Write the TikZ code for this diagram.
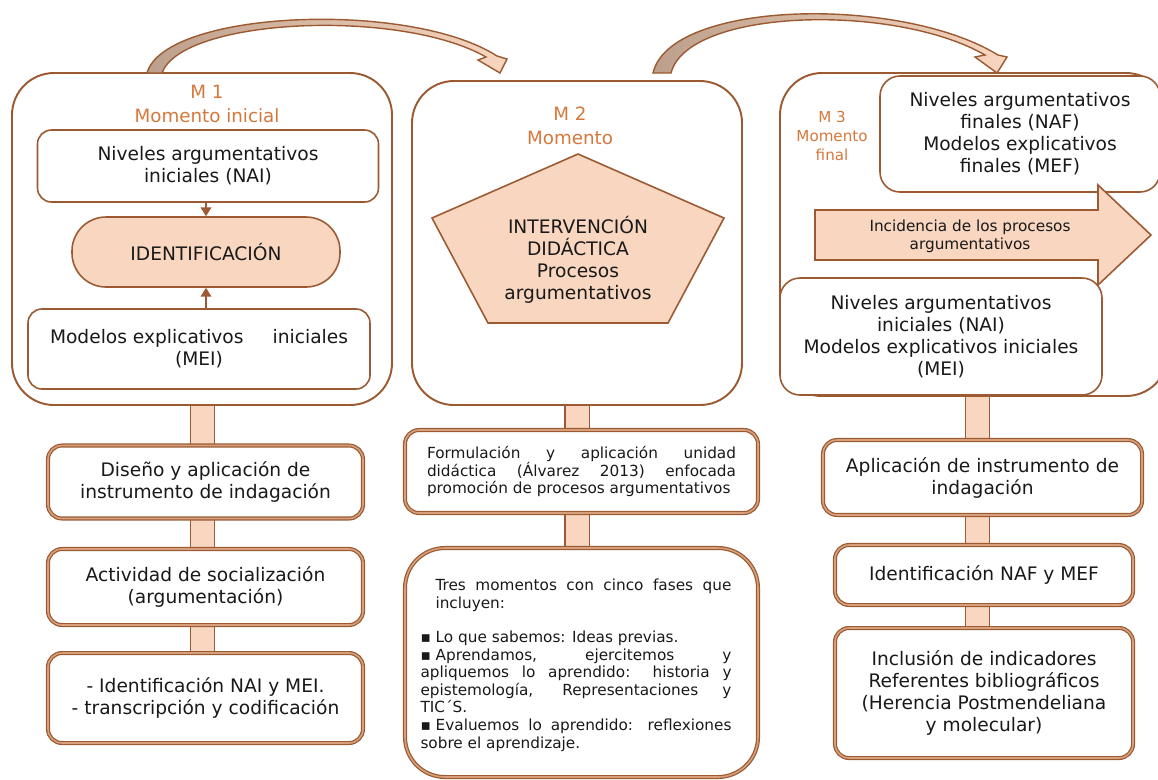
\documentclass[tikz,border=0pt]{standalone}
\usepackage{fontspec}
\setmainfont{DejaVu Sans}
\usetikzlibrary{arrows.meta, calc, positioning, backgrounds}
\definecolor{brownline}{RGB}{155,90,50}
\definecolor{brownpale}{RGB}{215,160,125}
\definecolor{peach}{RGB}{248,214,192}
\definecolor{archbase}{RGB}{188,160,140}
\definecolor{orangetxt}{RGB}{214,120,60}
\newlength{\pxu}
\setlength{\pxu}{0.02cm}
\newcommand{\boxfont}{\fontsize{10.6}{12.5}\selectfont}
\newcommand{\smallfont}{\fontsize{8.7}{10}\selectfont}
\newcommand{\titlefont}{\fontsize{10.4}{14}\selectfont}
\newcommand{\tinytitle}{\fontsize{8.6}{10.8}\selectfont}

\begin{document}
\begin{tikzpicture}[
    x=0.02cm, y=-0.02cm,
    >={Triangle[width=6pt,length=5pt]},
    every node/.style={font=\boxfont, text=black!90, inner sep=0pt, align=center},
    bigbox/.style={draw=brownline, line width=1.1pt, fill=white, rounded corners=42*\pxu},
    innerbox/.style={draw=brownline, line width=0.9pt, fill=white, rounded corners=14*\pxu},
    stepbox/.style={draw=brownline, line width=0.7pt, double=brownpale, double distance=0.9pt,
                    fill=white, rounded corners=14*\pxu},
    titletxt/.style={font=\titlefont, text=orangetxt},
    connbar/.style={draw=brownline, line width=0.8pt, double=peach, double distance=23*\pxu},
    arch/.style={draw=brownline, line width=0.8pt, left color=archbase, right color=peach},
]
\useasboundingbox (0,0) rectangle (1158,779);
\clip (0,0) rectangle (1158,779);

% ---- M1: momento inicial
\node[bigbox, minimum width=380*\pxu, minimum height=332*\pxu] (m1) at (202,239) {};
\node[titletxt] (m1t) at (207,104) {M 1\\Momento inicial};
\node[innerbox, minimum width=341*\pxu, minimum height=72*\pxu] (nai1) at (208,166)
    {Niveles argumentativos\\iniciales (NAI)};
\node[draw=brownline, line width=0.9pt, fill=peach, rounded corners=34*\pxu,
      minimum width=268*\pxu, minimum height=70*\pxu] (ident) at (206,252) {IDENTIFICACIÓN};
\node[innerbox, minimum width=342*\pxu, minimum height=80*\pxu] (mei1) at (199,349)
    {\makebox[298\pxu][s]{Modelos explicativos\hfill iniciales}\\(MEI)};
\draw[->, brownline, line width=0.9pt] (ident.north |- nai1.south) -- (ident.north);
\draw[->, brownline, line width=0.9pt] (ident.south |- mei1.north) -- (ident.south);

% ---- M2: momento de intervencion
\node[bigbox, minimum width=330*\pxu, minimum height=324*\pxu] (m2) at (577,243) {};
\node[titletxt] (m2t) at (570,126) {M 2\\Momento};
\filldraw[draw=brownline, line width=0.9pt, fill=peach]
    (578,154) -- (724,218) -- (668,323) -- (488,323) -- (432,218) -- cycle;
\node (interv) at (578,260) {INTERVENCIÓN\\DIDÁCTICA\\Procesos\\argumentativos};

% ---- M3: momento final
\node[bigbox, minimum width=388*\pxu, minimum height=323*\pxu] (m3) at (974,234.5) {};
\node[titletxt, font=\tinytitle] (m3t) at (832,136) {M 3\\Momento\\final};
\node[innerbox, rounded corners=20*\pxu, minimum width=280*\pxu, minimum height=116*\pxu] (naf)
    at (1020,134) {Niveles argumentativos\\finales (NAF)\\Modelos explicativos\\finales (MEF)};
\filldraw[draw=brownline, line width=0.9pt, fill=peach]
    (815,210) -- (1098,210) -- (1098,185) -- (1151,235) -- (1098,285) -- (1098,260) -- (815,260) -- cycle;
\node[font=\smallfont] (incid) at (970,236) {Incidencia de los procesos\\argumentativos};
\node[innerbox, rounded corners=20*\pxu, minimum width=322*\pxu, minimum height=117*\pxu] (nai3)
    at (941,336.5) {Niveles argumentativos\\iniciales (NAI)\\Modelos explicativos iniciales\\(MEI)};

% ---- curved arrows between moments
\path[arch] (147,73) .. controls (165,10) and (410,0) .. (497,56)
    -- (507,59) -- (500,73) -- (478,60) -- (486,57)
    .. controls (400,8) and (182,18) .. (162,73) -- cycle;
\path[arch] (653,73) .. controls (670,0) and (900,-5) .. (998,55)
    -- (1007,57) -- (997,73) -- (975,57) -- (985,55)
    .. controls (895,3) and (688,8) .. (671,73) -- cycle;

% ---- lower column 1
\node[stepbox, minimum width=315*\pxu, minimum height=73*\pxu] (dis) at (205.5,482)
    {Diseño y aplicación de\\instrumento de indagación};
\node[stepbox, minimum width=315*\pxu, minimum height=76*\pxu] (act) at (205.5,587)
    {Actividad de socialización\\(argumentación)};
\node[stepbox, minimum width=315*\pxu, minimum height=90*\pxu] (idnai) at (205.5,698)
    {- Identificación NAI y MEI.\\- transcripción y codificación};

% ---- lower column 2
\node[stepbox, minimum width=353*\pxu, minimum height=83*\pxu, text width=309*\pxu,
      align=justify, font=\smallfont] (form) at (581.5,471.5)
    {Formulación y aplicación unidad\linebreak didáctica (Álvarez 2013) enfocada\linebreak promoción de procesos argumentativos};
\node[stepbox, rounded corners=40*\pxu, minimum width=353*\pxu, minimum height=229*\pxu]
    (tres) at (581.5,662.5) {};
\node[text width=311*\pxu, align=justify, font=\smallfont] (trestxt) at (576,665)
    {\parindent=0pt{\leftskip=15\pxu Tres momentos con cinco fases que\linebreak incluyen:\par}
     \vspace{17\pxu}
     \mbox{▪ Lo} que sabemos: Ideas previas.\par
     \mbox{▪ Aprendamos,} ejercitemos y\linebreak apliquemos lo aprendido: historia y\linebreak epistemología, Representaciones y\linebreak TIC´S.\par
     \mbox{▪ Evaluemos} lo aprendido: reflexiones\linebreak sobre el aprendizaje.};

% ---- lower column 3
\node[stepbox, minimum width=319*\pxu, minimum height=75*\pxu] (apl) at (982.5,477.5)
    {Aplicación de instrumento de\\indagación};
\node[stepbox, minimum width=298*\pxu, minimum height=60*\pxu] (idnaf) at (984,575)
    {Identificación NAF y MEF};
\node[stepbox, minimum width=298*\pxu, minimum height=130*\pxu] (incl) at (984,693)
    {Inclusión de indicadores\\Referentes bibliográficos\\(Herencia Postmendeliana\\y molecular)};

% ---- square links
\begin{scope}[on background layer]
\draw[connbar] (202.5,0 |- m1.south) -- (202.5,0 |- dis.north);
\draw[connbar] (202.5,0 |- dis.south) -- (202.5,0 |- act.north);
\draw[connbar] (202.5,0 |- act.south) -- (202.5,0 |- idnai.north);
\draw[connbar] (m2.south) -- (m2.south |- form.north);
\draw[connbar] (m2.south |- form.south) -- (m2.south |- tres.north);
\draw[connbar] (977.5,0 |- m3.south) -- (977.5,0 |- apl.north);
\draw[connbar] (977.5,0 |- apl.south) -- (977.5,0 |- idnaf.north);
\draw[connbar] (977.5,0 |- idnaf.south) -- (977.5,0 |- incl.north);
\end{scope}
\end{tikzpicture}
\end{document}
